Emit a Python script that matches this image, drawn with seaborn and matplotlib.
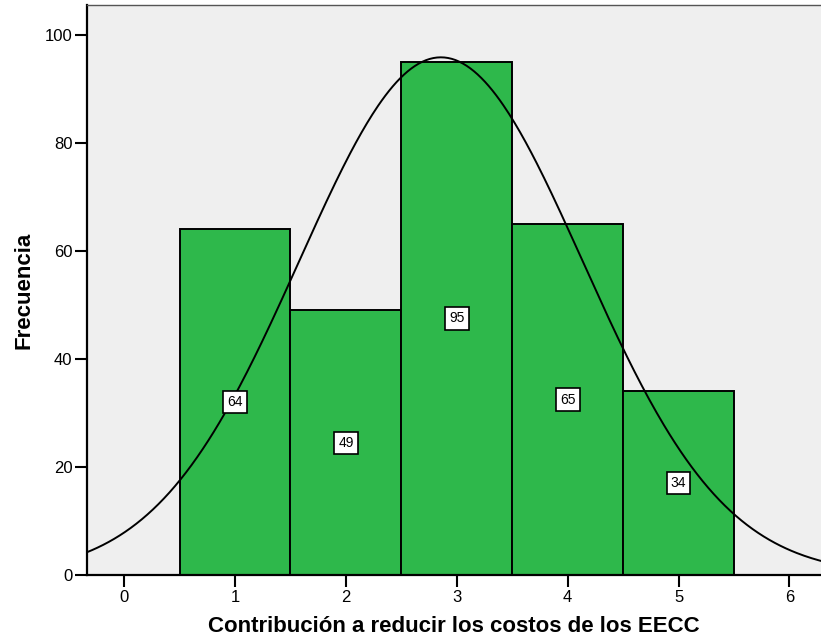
import numpy as np
import pandas as pd
import matplotlib
matplotlib.use("Agg")
import matplotlib.pyplot as plt
import seaborn as sns

categories = [1, 2, 3, 4, 5]
counts = [64, 49, 95, 65, 34]
xlabel = "Contribución a reducir los costos de los EECC"
ylabel = "Frecuencia"

sns.set_style("white")
plt.rcParams['font.family'] = ['Liberation Sans', 'DejaVu Sans']
plt.rcParams['text.color'] = 'black'
plt.rcParams['axes.labelcolor'] = 'black'

df = pd.DataFrame({"valor": categories, "n": counts})

fig = plt.figure(figsize=(8.21, 6.44), dpi=100)
ax = fig.add_axes([0.106, 0.107, 0.894, 0.885])
ax.set_facecolor("#efefef")

sns.histplot(data=df, x="valor", weights="n", discrete=True, ax=ax,
             color="#2eb84b", alpha=1, edgecolor="black", linewidth=1.4)

# normal curve fitted to the data
vals = np.repeat(categories, counts)
mu, sd = vals.mean(), vals.std(ddof=1)
xs = np.linspace(-0.34, 6.3, 400)
ys = len(vals) * np.exp(-0.5 * ((xs - mu) / sd) ** 2) / (sd * np.sqrt(2 * np.pi))
sns.lineplot(x=xs, y=ys, color="black", linewidth=1.4, ax=ax)

for c, n in zip(categories, counts):
    ax.text(c, n / 2, str(n), ha="center", va="center", fontsize=10,
            color="black",
            bbox=dict(boxstyle="square,pad=0.3", facecolor="white",
                      edgecolor="black", linewidth=1.2))

ax.set_xlim(-0.335, 6.285)
ax.set_ylim(0, 105.5)
ax.set_xticks(range(0, 7))
ax.set_yticks(range(0, 101, 20))
ax.tick_params(direction="out", length=8.5, width=1.5, labelsize=12,
               bottom=True, left=True, colors="black", pad=2)
for s in ["left", "bottom"]:
    ax.spines[s].set_linewidth(1.6)
    ax.spines[s].set_color("black")
ax.spines["top"].set_linewidth(1)
ax.spines["top"].set_color("#555555")
ax.spines["right"].set_visible(False)
ax.set_xlabel(xlabel, fontsize=16, fontweight="bold", labelpad=8)
ax.set_ylabel(ylabel, fontsize=16, fontweight="bold", labelpad=7)

fig.savefig("out.png", dpi=100)
